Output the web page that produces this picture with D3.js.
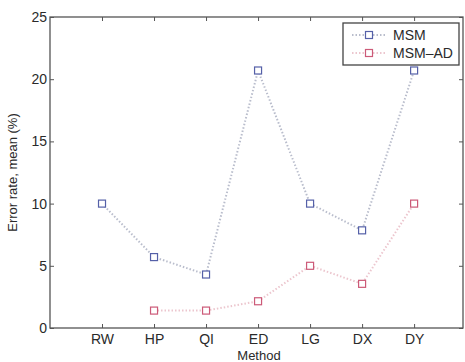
<!DOCTYPE html>
<html>
<head>
<meta charset="utf-8">
<script src="https://cdn.jsdelivr.net/npm/d3@7"></script>
<style>
  html, body { margin: 0; padding: 0; background: #fff; }
  svg { display: block; }
  text { font-family: "Liberation Sans", Arial, Helvetica, sans-serif; fill: #2a2a2a; }
</style>
</head>
<body>
<svg id="chart" width="465" height="362"></svg>
<script>
// Methods along the x axis
const methods = ["RW", "HP", "QI", "ED", "LG", "DX", "DY"];
// Mean error rate (%) per method
const msm   = [10.0, 5.7, 4.3, 20.7, 10.0, 7.85, 20.7];
const msmAd = [null, 1.4, 1.4, 2.15, 5.0, 3.55, 10.0];
const yTicks = [0, 5, 10, 15, 20, 25];

const svg = d3.select("#chart");
const m = { left: 50, right: 463, top: 17, bottom: 328 };

const x = d3.scaleLinear().domain([0, 7.94]).range([m.left, m.right]);
const y = d3.scaleLinear().domain([0, 25]).range([m.bottom, m.top]);
const xPos = i => x(i + 1);

const axisColor = "#555";

// plot frame
svg.append("rect")
  .attr("x", m.left).attr("y", m.top)
  .attr("width", m.right - m.left).attr("height", m.bottom - m.top)
  .attr("fill", "none").attr("stroke", axisColor).attr("stroke-width", 1.3);

// bottom axis: labels with inward ticks
const xAxis = d3.axisBottom(x)
  .tickValues(methods.map((d, i) => i + 1))
  .tickFormat((d) => methods[d - 1])
  .tickSizeInner(-4).tickSizeOuter(0).tickPadding(6);
const gx = svg.append("g").attr("transform", `translate(0,${m.bottom})`).call(xAxis);
gx.select(".domain").remove();
gx.selectAll("line").attr("stroke", axisColor);
gx.selectAll("text").attr("font-size", 14).style("fill", "#2a2a2a");

// top ticks
const gxTop = svg.append("g").attr("transform", `translate(0,${m.top})`)
  .call(d3.axisTop(x).tickValues(methods.map((d, i) => i + 1)).tickFormat("").tickSizeInner(-4).tickSizeOuter(0));
gxTop.select(".domain").remove();
gxTop.selectAll("line").attr("stroke", axisColor);

// left axis
const yAxis = d3.axisLeft(y).tickValues(yTicks).tickSizeInner(-4).tickSizeOuter(0).tickPadding(3);
const gy = svg.append("g").attr("transform", `translate(${m.left},0)`).call(yAxis);
gy.select(".domain").remove();
gy.selectAll("line").attr("stroke", axisColor);
gy.selectAll("text").attr("font-size", 14).style("fill", "#2a2a2a");

// right ticks
const gyR = svg.append("g").attr("transform", `translate(${m.right},0)`)
  .call(d3.axisRight(y).tickValues(yTicks).tickFormat("").tickSizeInner(-4).tickSizeOuter(0));
gyR.select(".domain").remove();
gyR.selectAll("line").attr("stroke", axisColor);

// axis titles
svg.append("text")
  .attr("transform", `translate(17,${(m.top + m.bottom) / 2}) rotate(-90)`)
  .attr("text-anchor", "middle").attr("font-size", 13)
  .text("Error rate, mean (%)");
svg.append("text")
  .attr("x", 259).attr("y", 360)
  .attr("text-anchor", "middle").attr("font-size", 13)
  .text("Method");

const series = [
  { name: "MSM", values: msm, line: "#b9bdcc", marker: "#5560a8" },
  { name: "MSM\u2013AD", values: msmAd, line: "#ecc6ce", marker: "#cc5a78" }
];

const lineGen = d3.line()
  .defined(d => d.v != null)
  .x(d => xPos(d.i))
  .y(d => y(d.v));

series.forEach(s => {
  const pts = s.values.map((v, i) => ({ v, i }));
  svg.append("path")
    .datum(pts)
    .attr("d", lineGen)
    .attr("fill", "none")
    .attr("stroke", s.line)
    .attr("stroke-width", 2)
    .attr("stroke-dasharray", "1.5,2");
  svg.append("g").selectAll("rect")
    .data(pts.filter(d => d.v != null))
    .join("rect")
    .attr("x", d => xPos(d.i) - 3.5)
    .attr("y", d => y(d.v) - 3.5)
    .attr("width", 7).attr("height", 7)
    .attr("fill", "#fff")
    .attr("stroke", s.marker)
    .attr("stroke-width", 1.2);
});

// legend
const lg = svg.append("g");
lg.append("rect")
  .attr("x", 343).attr("y", 23).attr("width", 116).attr("height", 42)
  .attr("fill", "#fff").attr("stroke", "#444").attr("stroke-width", 1.3);
series.forEach((s, k) => {
  const cy = 35 + k * 18;
  lg.append("line")
    .attr("x1", 352).attr("x2", 386).attr("y1", cy).attr("y2", cy)
    .attr("stroke", s.line).attr("stroke-width", 2).attr("stroke-dasharray", "1.5,2");
  lg.append("rect")
    .attr("x", 369 - 3.5).attr("y", cy - 3.5).attr("width", 7).attr("height", 7)
    .attr("fill", "#fff").attr("stroke", s.marker).attr("stroke-width", 1.2);
  lg.append("text")
    .attr("x", 393).attr("y", cy + 5)
    .attr("font-size", 14)
    .text(s.name);
});
</script>
</body>
</html>
